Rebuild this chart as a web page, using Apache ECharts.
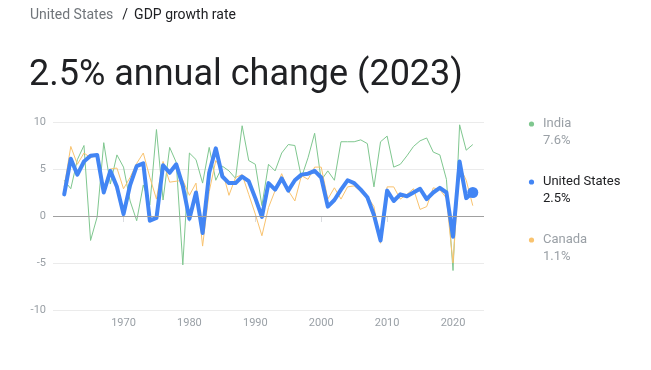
<!DOCTYPE html>
<html>
<head>
<meta charset="utf-8">
<script src="https://cdn.jsdelivr.net/npm/echarts@6/dist/echarts.min.js"></script>
<style>
html,body{margin:0;padding:0;background:#fff;}
#c{width:651px;height:370px;}
</style>
</head>
<body>
<div id="c"></div>
<script>
var years = [1961,1962,1963,1964,1965,1966,1967,1968,1969,1970,1971,1972,1973,1974,1975,1976,1977,1978,1979,1980,1981,1982,1983,1984,1985,1986,1987,1988,1989,1990,1991,1992,1993,1994,1995,1996,1997,1998,1999,2000,2001,2002,2003,2004,2005,2006,2007,2008,2009,2010,2011,2012,2013,2014,2015,2016,2017,2018,2019,2020,2021,2022,2023];

var india = [3.8,2.9,6.0,7.5,-2.6,-0.1,7.8,3.4,6.5,5.2,1.6,-0.5,3.3,1.2,9.2,1.7,7.3,5.7,-5.2,6.7,6.0,3.5,7.3,3.8,5.3,4.8,4.0,9.6,5.9,5.5,1.1,5.5,4.8,6.7,7.6,7.5,4.1,6.2,8.8,3.8,4.8,3.8,7.9,7.9,7.9,8.1,7.7,3.1,7.9,8.5,5.2,5.5,6.4,7.4,8.0,8.3,6.8,6.5,3.9,-5.8,9.7,7.0,7.6];

var unitedStates = [2.3,6.1,4.4,5.8,6.4,6.5,2.5,4.8,3.1,0.2,3.3,5.3,5.6,-0.5,-0.2,5.4,4.6,5.5,3.2,-0.3,2.5,-1.8,4.6,7.2,4.2,3.5,3.5,4.2,3.7,1.9,-0.1,3.5,2.8,4.0,2.7,3.8,4.4,4.5,4.8,4.1,1.0,1.7,2.8,3.8,3.5,2.8,2.0,0.1,-2.6,2.7,1.6,2.3,2.1,2.5,2.9,1.8,2.5,3.0,2.5,-2.2,5.8,1.9,2.5];

var canada = [3.1,7.4,5.5,6.7,6.2,6.5,3.0,5.0,5.1,2.9,4.1,5.6,6.7,4.1,1.8,5.8,3.6,3.7,3.8,2.2,3.5,-3.2,2.6,5.9,4.8,2.2,4.1,4.4,2.3,0.2,-2.1,0.9,2.7,4.5,2.7,1.6,4.3,3.9,5.2,5.2,1.8,3.0,1.8,3.1,3.2,2.6,2.1,1.0,-2.9,3.1,3.1,1.8,2.3,2.9,0.7,1.0,3.0,2.8,1.9,-5.0,5.3,3.8,1.1];

var seriesNames = ['India','United States','Canada'];
var seriesColors = ['#7fc78f','#4285f4','#f9c36f'];
var legendTextColors = ['#9aa0a6','#202124','#9aa0a6'];
var xTickLabels = [1970,1980,1990,2000,2010,2020];
var yTickLabels = [-10,-5,0,5,10];

function pairs(vals){ return years.map(function(y,i){ return [y, vals[i]]; }); }
var allSeries = [india, unitedStates, canada];

var chart = echarts.init(document.getElementById('c'), null, {renderer:'canvas'});

var legendGraphics = [];
seriesNames.forEach(function(name, i){
  var top = 124 + i*58;
  var last = allSeries[i][allSeries[i].length-1];
  legendGraphics.push({
    type:'circle', shape:{cx:531.5, cy:top, r:2.6}, style:{fill:seriesColors[i]}, silent:true
  });
  legendGraphics.push({
    type:'text', x:543, y:top, style:{text:name, fill:legendTextColors[i], font:'13px Roboto', verticalAlign:'middle', align:'left'}, silent:true
  });
  legendGraphics.push({
    type:'text', x:543, y:top+16.5, style:{text:last.toFixed(1)+'%', fill:legendTextColors[i], font:'13px Roboto', verticalAlign:'middle', align:'left'}, silent:true
  });
});

var option = {
  animation:false,
  backgroundColor:'#ffffff',
  textStyle:{fontFamily:'Roboto'},
  title:[
    {
      left:30, top:8, padding:0,
      text:'{a|United States}{s|/}{b|GDP growth rate}',
      textStyle:{
        fontWeight:'normal',
        rich:{
          a:{fontSize:14, color:'#70757a', fontFamily:'Roboto', fontWeight:'normal'},
          s:{fontSize:14, color:'#202124', fontFamily:'Roboto', fontWeight:'normal', padding:[0,6,0,9]},
          b:{fontSize:14, color:'#202124', fontFamily:'Roboto', fontWeight:'normal'}
        }
      }
    },
    {
      left:29, top:58, padding:0,
      text:'2.5% annual change (2023)',
      textStyle:{fontSize:36, fontWeight:'normal', color:'#202124', fontFamily:'Roboto'}
    }
  ],
  grid:{left:53, right:167, top:122, bottom:60, containLabel:false},
  xAxis:{
    type:'value', min:1959.3, max:2024.7,
    axisLine:{show:false},
    splitLine:{show:false},
    axisTick:{show:true, length:6, lineStyle:{color:'#dadce0'}, customValues:xTickLabels},
    axisLabel:{color:'#9aa0a6', fontSize:11, margin:8, customValues:xTickLabels, formatter:function(v){return String(v);}}
  },
  yAxis:{
    type:'value', min:-10, max:10, interval:5,
    axisLine:{show:false}, axisTick:{show:false},
    splitLine:{lineStyle:{color:'#ebebeb', width:1}},
    axisLabel:{color:'#9aa0a6', fontSize:11, margin:7}
  },
  series:[
    {
      name:seriesNames[0], type:'line', data:pairs(india), symbol:'none',
      lineStyle:{color:seriesColors[0], width:1}, z:2,
      markLine:{silent:true, symbol:'none', label:{show:false},
        lineStyle:{color:'#a0a0a0', width:1, type:'solid'}, data:[{yAxis:0}]}
    },
    {
      name:seriesNames[2], type:'line', data:pairs(canada), symbol:'none',
      lineStyle:{color:seriesColors[2], width:1}, z:3
    },
    {
      name:seriesNames[1], type:'line', data:pairs(unitedStates), symbol:'none',
      lineStyle:{color:seriesColors[1], width:4, join:'round', cap:'round'}, z:4
    },
    {
      name:seriesNames[1]+' latest', type:'scatter',
      data:[[years[years.length-1], unitedStates[unitedStates.length-1]]],
      symbol:'circle', symbolSize:11, itemStyle:{color:seriesColors[1], opacity:1}, z:5
    }
  ],
  graphic:legendGraphics
};
chart.setOption(option);
</script>
</body>
</html>
